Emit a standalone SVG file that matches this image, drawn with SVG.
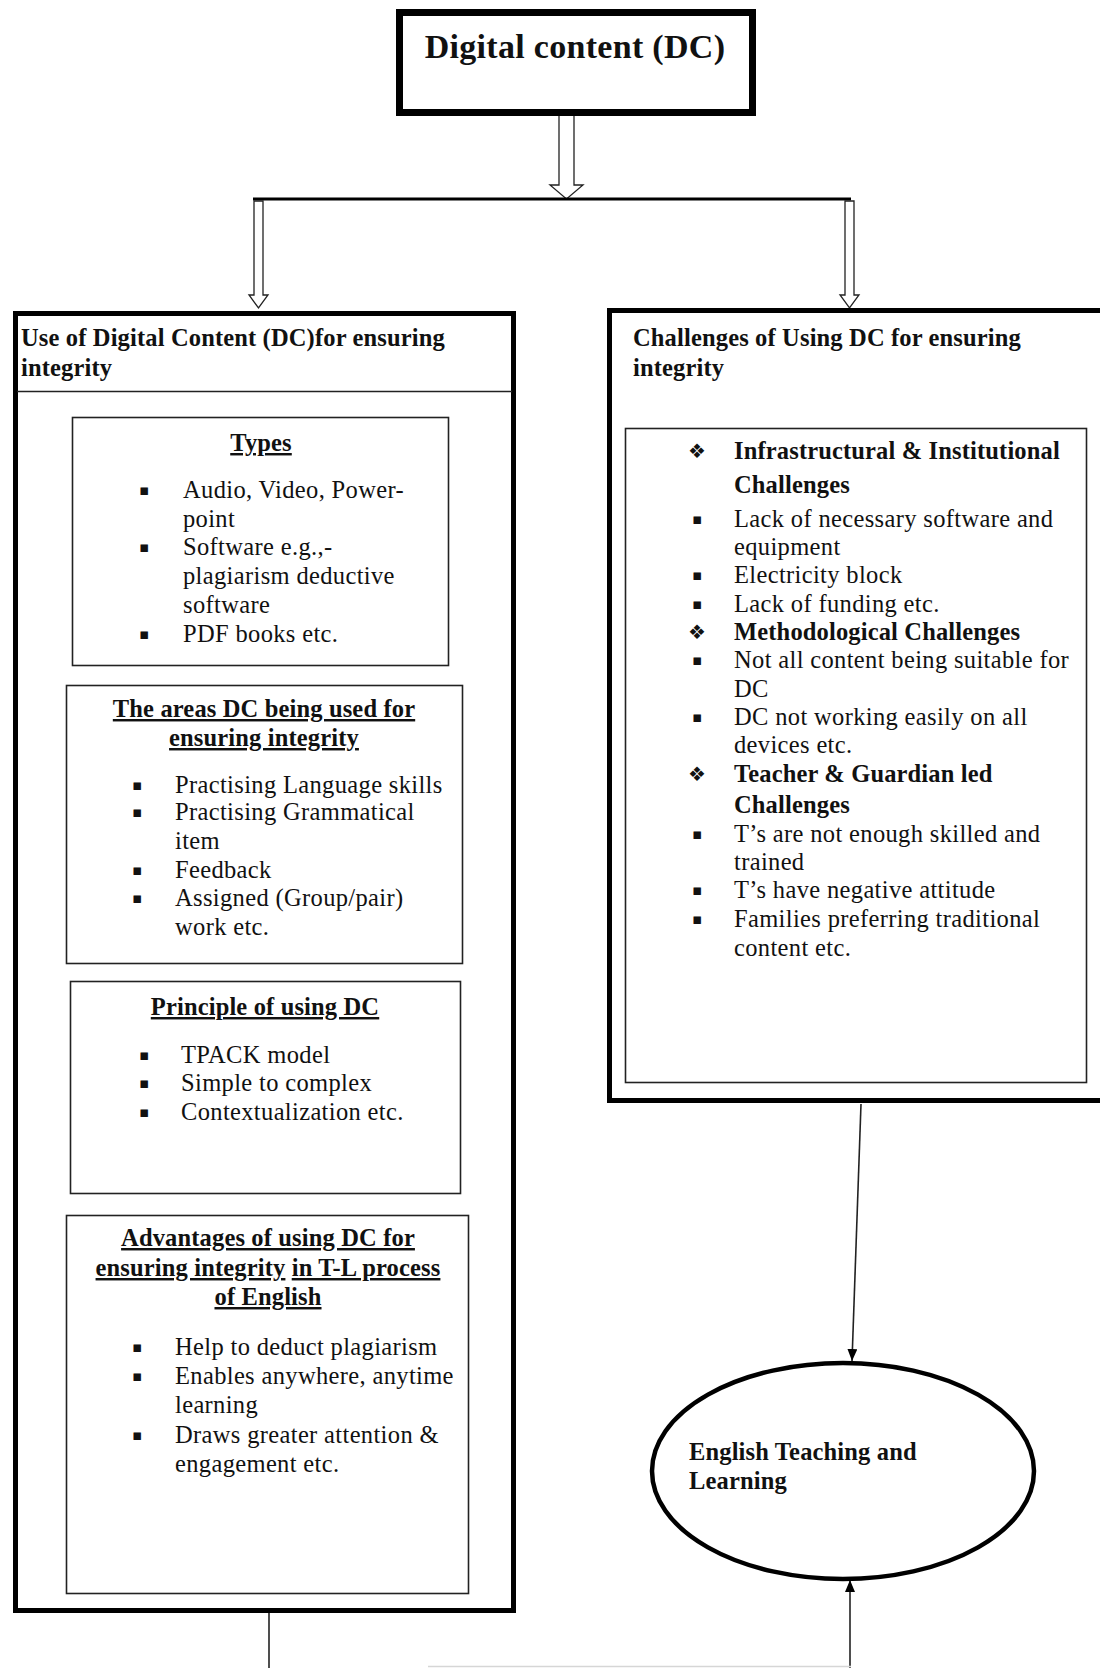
<svg xmlns="http://www.w3.org/2000/svg" width="1100" height="1668" viewBox="0 0 1100 1668">
<style>
  text { font-family: "Liberation Serif", "Times New Roman", serif; fill: #111; }
  .t { font-size: 24.5px; letter-spacing: 0.35px; }
  .b { font-size: 24.5px; font-weight: bold; letter-spacing: 0.15px; }
  .u { text-decoration: underline; }
  .sq { font-family: "DejaVu Sans", sans-serif; font-size: 15px; }
  .dm { font-family: "DejaVu Sans", sans-serif; font-size: 20px; }
  .thick { fill: #fff; stroke: #000; }
  .inner { fill: #fff; stroke: #222; stroke-width: 1.6; }
  .hollow { fill: #fff; stroke: #222; stroke-width: 1.3; stroke-linejoin: miter; }
  .conn { stroke: #222; stroke-width: 1.6; fill: none; }
</style>
<defs>
  <marker id="ah2" viewBox="0 0 12 10" refX="12" refY="5" markerWidth="12" markerHeight="10" markerUnits="userSpaceOnUse" orient="auto">
    <path d="M0,0 L12,5 L0,10 Z" fill="#000"/>
  </marker>
</defs>
<rect width="1100" height="1668" fill="#fff"/>

<g id="connectors">
  <polygon class="hollow" points="559,115 559,185 550,185 566.5,199 583,185 574,185 574,115"/>
  <line x1="253" y1="199" x2="851" y2="199" stroke="#000" stroke-width="3"/>
  <polygon class="hollow" points="254,201 254,295 249,295 258.5,308 268,295 263,295 263,201"/>
  <polygon class="hollow" points="845,201 845,295 840,295 849.5,308 859,295 854,295 854,201"/>
  <line class="conn" x1="861" y1="1104" x2="852" y2="1361" marker-end="url(#ah2)"/>
  <line class="conn" x1="850" y1="1668" x2="850" y2="1580" marker-end="url(#ah2)"/>
  <line class="conn" x1="269" y1="1613" x2="269" y2="1668"/>
  <line x1="428" y1="1666.5" x2="851" y2="1666.5" stroke="#d6d6d6" stroke-width="1.5"/>
  <line x1="1095" y1="386" x2="1100" y2="386" stroke="#222" stroke-width="1.5"/>
</g>

<g id="node-dc">
  <rect class="thick" x="399.5" y="12.5" width="353" height="100" stroke-width="7"/>
  <text x="575" y="58" font-size="34" font-weight="bold" text-anchor="middle" letter-spacing="0.3">Digital content (DC)</text>
</g>

<g id="node-use">
  <rect class="thick" x="15.5" y="313.5" width="498" height="1297" stroke-width="5"/>
  <line x1="17" y1="391.5" x2="512" y2="391.5" stroke="#222" stroke-width="1.6"/>
  <text class="b" x="21" y="346">Use of Digital Content (DC)for ensuring</text>
  <text class="b" x="21" y="376">integrity</text>
</g>

<g id="node-types">
  <rect class="inner" x="72.5" y="417.5" width="376" height="248"/>
  <text class="b u" x="261" y="451" text-anchor="middle">Types</text>
  <text class="sq" x="139" y="495">▪</text>
  <text class="t" x="183" y="498">Audio, Video, Power-</text>
  <text class="t" x="183" y="527">point</text>
  <text class="sq" x="139" y="552">▪</text>
  <text class="t" x="183" y="555">Software e.g.,-</text>
  <text class="t" x="183" y="584">plagiarism deductive</text>
  <text class="t" x="183" y="613">software</text>
  <text class="sq" x="139" y="639">▪</text>
  <text class="t" x="183" y="642">PDF books etc.</text>
</g>

<g id="node-areas">
  <rect class="inner" x="66.5" y="685.5" width="396" height="278"/>
  <text class="b u" x="264" y="717" text-anchor="middle">The areas DC being used for</text>
  <text class="b u" x="264" y="746" text-anchor="middle">ensuring integrity</text>
  <text class="sq" x="132" y="790">▪</text>
  <text class="t" x="175" y="793">Practising Language skills</text>
  <text class="sq" x="132" y="817">▪</text>
  <text class="t" x="175" y="820">Practising Grammatical</text>
  <text class="t" x="175" y="849">item</text>
  <text class="sq" x="132" y="875">▪</text>
  <text class="t" x="175" y="878">Feedback</text>
  <text class="sq" x="132" y="903">▪</text>
  <text class="t" x="175" y="906">Assigned (Group/pair)</text>
  <text class="t" x="175" y="935">work etc.</text>
</g>

<g id="node-principle">
  <rect class="inner" x="70.5" y="981.5" width="390" height="212"/>
  <text class="b u" x="265" y="1015" text-anchor="middle">Principle of using DC</text>
  <text class="sq" x="139" y="1060">▪</text>
  <text class="t" x="181" y="1063">TPACK model</text>
  <text class="sq" x="139" y="1088">▪</text>
  <text class="t" x="181" y="1091">Simple to complex</text>
  <text class="sq" x="139" y="1117">▪</text>
  <text class="t" x="181" y="1120">Contextualization etc.</text>
</g>

<g id="node-advantages">
  <rect class="inner" x="66.5" y="1215.5" width="402" height="378"/>
  <text class="b u" x="268" y="1246" text-anchor="middle">Advantages of using DC for</text>
  <text class="b" x="268" y="1276" text-anchor="middle"><tspan class="u">ensuring integrity</tspan> <tspan class="u">in T-L process</tspan></text>
  <text class="b u" x="268" y="1305" text-anchor="middle">of English</text>
  <text class="sq" x="132" y="1352">▪</text>
  <text class="t" x="175" y="1355">Help to deduct plagiarism</text>
  <text class="sq" x="132" y="1381">▪</text>
  <text class="t" x="175" y="1384">Enables anywhere, anytime</text>
  <text class="t" x="175" y="1413">learning</text>
  <text class="sq" x="132" y="1440">▪</text>
  <text class="t" x="175" y="1443">Draws greater attention &amp;</text>
  <text class="t" x="175" y="1472">engagement etc.</text>
</g>

<g id="node-challenges">
  <rect class="thick" x="609.5" y="310.5" width="500" height="790" stroke-width="5"/>
  <text class="b" x="633" y="346">Challenges of Using DC for ensuring</text>
  <text class="b" x="633" y="376">integrity</text>
  <rect class="inner" x="625.5" y="428.5" width="461" height="654"/>
  <text class="dm" x="688" y="458">❖</text>
  <text class="b" x="734" y="459">Infrastructural &amp; Institutional</text>
  <text class="b" x="734" y="493">Challenges</text>
  <text class="sq" x="692" y="524">▪</text>
  <text class="t" x="734" y="527">Lack of necessary software and</text>
  <text class="t" x="734" y="555">equipment</text>
  <text class="sq" x="692" y="580">▪</text>
  <text class="t" x="734" y="583">Electricity block</text>
  <text class="sq" x="692" y="609">▪</text>
  <text class="t" x="734" y="612">Lack of funding etc.</text>
  <text class="dm" x="688" y="639">❖</text>
  <text class="b" x="734" y="640">Methodological Challenges</text>
  <text class="sq" x="692" y="665">▪</text>
  <text class="t" x="734" y="668">Not all content being suitable for</text>
  <text class="t" x="734" y="697">DC</text>
  <text class="sq" x="692" y="722">▪</text>
  <text class="t" x="734" y="725">DC not working easily on all</text>
  <text class="t" x="734" y="753">devices etc.</text>
  <text class="dm" x="688" y="781">❖</text>
  <text class="b" x="734" y="782">Teacher &amp; Guardian led</text>
  <text class="b" x="734" y="813">Challenges</text>
  <text class="sq" x="692" y="839">▪</text>
  <text class="t" x="734" y="842">T’s are not enough skilled and</text>
  <text class="t" x="734" y="870">trained</text>
  <text class="sq" x="692" y="895">▪</text>
  <text class="t" x="734" y="898">T’s have negative attitude</text>
  <text class="sq" x="692" y="924">▪</text>
  <text class="t" x="734" y="927">Families preferring traditional</text>
  <text class="t" x="734" y="956">content etc.</text>
</g>

<g id="node-etl">
  <ellipse cx="843" cy="1471" rx="191" ry="108" fill="#fff" stroke="#000" stroke-width="4.5"/>
  <text class="b" x="689" y="1460" letter-spacing="0.4">English Teaching and</text>
  <text class="b" x="689" y="1489" letter-spacing="0.4">Learning</text>
</g>
</svg>
